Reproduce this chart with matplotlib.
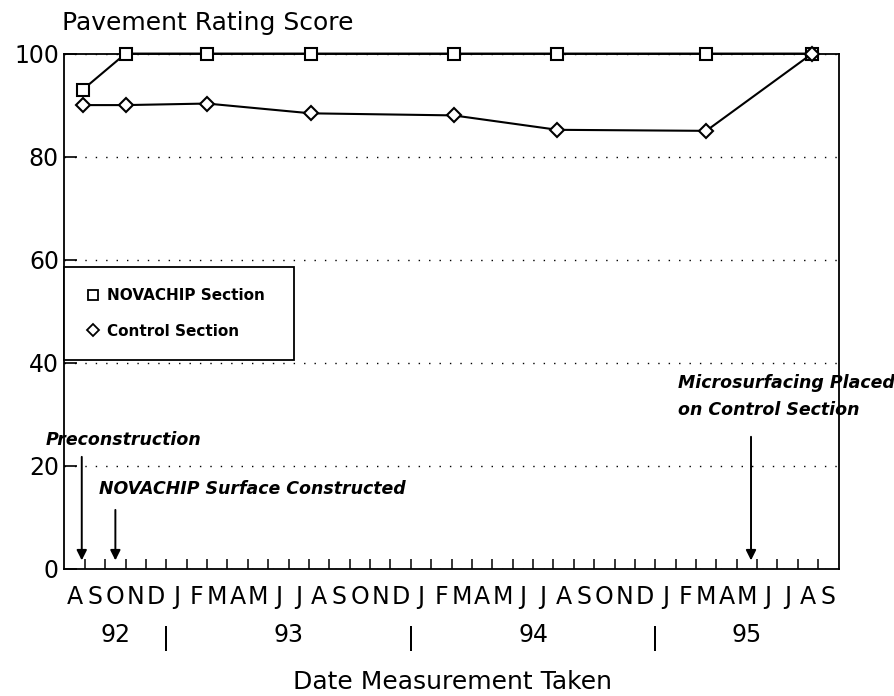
import matplotlib
matplotlib.use("Agg")
import matplotlib.pyplot as plt
import matplotlib.transforms as mtransforms
from matplotlib.lines import Line2D
import numpy as np

# ---------------- data ----------------
month_labels = list("ASOND") + list("JFMAMJJASOND") * 2 + list("JFMAMJJAS")
year_labels = ["92", "93", "94", "95"]
year_first_month = [0, 5, 17, 29]          # index of first month of each year on the axis

# measurement dates (months since 1 Aug 1992) and scores
survey_month = [0.9, 3.0, 7.0, 12.1, 19.1, 24.2, 31.5, 36.7]
novachip_score = [93, 100, 100, 100, 100, 100, 100, 100]
control_score = [90, 90, 90.3, 88.4, 88.0, 85.2, 85.0, 100]

event_labels = ["Preconstruction", "NOVACHIP Surface Constructed",
                "Microsurfacing Placed\non Control Section"]
event_month = [0.85, 2.5, 33.7]

y_ticks = [0, 20, 40, 60, 80, 100]

# ---------------- figure ----------------
n_months = len(month_labels)
fig = plt.figure(figsize=(8.95, 6.96), dpi=100)
ax = fig.add_axes([0.072, 0.183, 0.865, 0.740])
ax.set_xlim(0, n_months)
ax.set_ylim(0, 100)

for s in ax.spines.values():
    s.set_linewidth(1.3)
    s.set_color("black")

# grid
ax.set_yticks(y_ticks)
ax.set_yticklabels([str(v) for v in y_ticks])
ax.yaxis.grid(True, linestyle=(0, (1, 6.5)), color="black", linewidth=1.0)
ax.set_axisbelow(True)
ax.tick_params(axis="y", direction="in", length=9, width=1.2, labelsize=17, pad=4)

# x: month boundaries as ticks, month letters as minor labels
ax.set_xticks(np.arange(1, n_months))
ax.set_xticklabels([])
ax.set_xticks(np.arange(n_months) + 0.5, minor=True)
ax.set_xticklabels(month_labels, minor=True)
ax.tick_params(axis="x", which="major", direction="in", length=7, width=1.1)
ax.tick_params(axis="x", which="minor", length=0, labelsize=17, pad=12)

# year labels and separators
trans = mtransforms.blended_transform_factory(ax.transData, ax.transAxes)
bounds = year_first_month + [n_months]
for i, lab in enumerate(year_labels):
    mid = (bounds[i] + bounds[i + 1]) / 2
    ax.text(mid, -0.128, lab, transform=trans, ha="center", va="center", fontsize=17)
for b in year_first_month[1:]:
    ax.text(b, -0.135, "|", transform=trans, ha="center", va="center", fontsize=17)

# series
ax.plot(survey_month, novachip_score, color="black", lw=1.5, marker="s", ms=8,
        mfc="white", mec="black", mew=1.5, clip_on=False, zorder=5)
ax.plot(survey_month, control_score, color="black", lw=1.5, marker="D", ms=7.5,
        mfc="white", mec="black", mew=1.5, clip_on=False, zorder=5)

# legend
handles = [Line2D([], [], ls="none", marker="s", ms=6.5, mfc="white", mec="black", mew=1.3),
           Line2D([], [], ls="none", marker="D", ms=6, mfc="white", mec="black", mew=1.3)]
leg = ax.legend(handles, ["NOVACHIP Section", "Control Section"],
                loc="upper left", bbox_to_anchor=(0, 0.403, 0.296, 0.183), mode="expand",
                borderaxespad=0, fancybox=False, framealpha=1, edgecolor="black",
                borderpad=1.4, labelspacing=1.35, handlelength=1.0, handletextpad=0.4,
                prop={"weight": "bold", "size": 11})
leg.get_frame().set_linewidth(1.3)

# annotations
anno_font = dict(fontsize=12.5, fontweight="bold", fontstyle="italic")
arrow_props = dict(arrowstyle="-|>", color="black", lw=1.4, mutation_scale=15,
                   shrinkA=0, shrinkB=0)
arrow_tops = [21.7, 11.4, 25.6]
text_pos = [(-0.9, 25.0), (1.7, 15.5), (30.1, 33.4)]
for lab, m, top, (tx, ty) in zip(event_labels, event_month, arrow_tops, text_pos):
    ax.annotate("", xy=(m, 1.6), xytext=(m, top), arrowprops=arrow_props)
    ax.text(tx, ty, lab, ha="left", va="center", linespacing=1.65, **anno_font)

# titles
fig.text(0.069, 0.967, "Pavement Rating Score", ha="left", va="center", fontsize=18)
fig.text(0.506, 0.020, "Date Measurement Taken", ha="center", va="center", fontsize=18)

fig.savefig("out.png", dpi=100)
